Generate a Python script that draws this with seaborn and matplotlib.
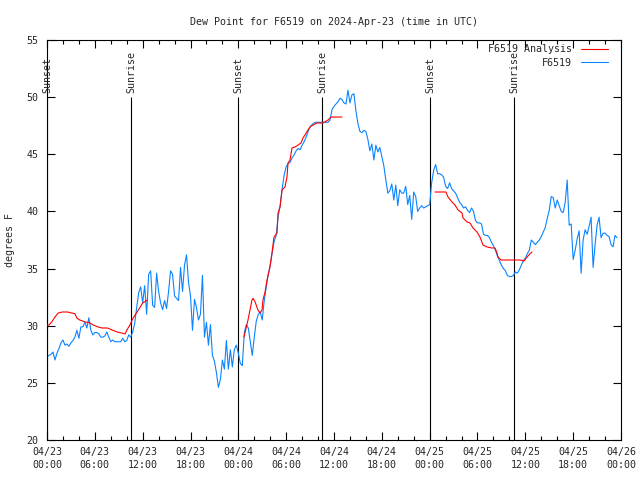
import numpy as np
import pandas as pd
import matplotlib
matplotlib.use("Agg")
import matplotlib.pyplot as plt
from matplotlib.lines import Line2D
import seaborn as sns

# ---------------------- DATA ----------------------
# hours since 2024-04-23 00:00 UTC
x_ticks = list(range(0, 73, 6))
x_tick_labels = ["04/23\n00:00", "04/23\n06:00", "04/23\n12:00", "04/23\n18:00",
                 "04/24\n00:00", "04/24\n06:00", "04/24\n12:00", "04/24\n18:00",
                 "04/25\n00:00", "04/25\n06:00", "04/25\n12:00", "04/25\n18:00",
                 "04/26\n00:00"]
y_ticks = [20, 25, 30, 35, 40, 45, 50, 55]

sun_names = ["Sunset", "Sunrise", "Sunset", "Sunrise", "Sunset", "Sunrise"]
sun_hours = [0.05, 10.54, 23.96, 34.5, 48.04, 58.58]

# F6519 observations, one every 15 minutes from 04/23 00:00
obs_step_h = 0.25
obs_dew = [
    27.3, 27.4, 27.5, 27.7, 27.0, 27.6, 28.0, 28.5, 28.75, 28.3, 28.4, 28.2,
    28.5, 28.7, 29.0, 29.6, 28.9, 29.9, 29.9, 30.3, 29.8, 30.7, 29.6, 29.2,
    29.4, 29.4, 29.3, 29.0, 29.0, 29.1, 29.45, 29.0, 28.6, 28.75, 28.6, 28.6,
    28.6, 28.6, 28.9, 28.6, 28.7, 29.2, 29.0, 29.45, 30.2, 31.6, 32.9, 33.4,
    32.0, 33.5, 31.0, 34.5, 34.8, 31.8, 31.6, 34.6, 33.0, 32.0, 31.4, 32.2,
    31.5, 33.0, 34.8, 34.5, 32.6, 32.4, 32.2, 35.1, 33.0, 35.3, 36.2, 33.8,
    32.6, 29.6, 32.3, 31.6, 30.5, 31.0, 34.4, 29.0, 30.3, 28.3, 30.1, 27.4,
    26.9, 25.9, 24.6, 25.3, 27.0, 26.2, 28.7, 26.2, 27.9, 26.4, 27.9, 28.3,
    27.6, 26.7, 26.5, 29.4, 30.1, 29.8, 28.6, 27.4, 29.0, 30.4, 31.0, 31.2,
    30.5, 32.2, 33.4, 34.5, 35.3, 36.4, 37.4, 37.9, 39.6, 40.5, 42.0, 43.2,
    43.9, 44.2, 44.3, 44.7, 44.95, 45.3, 45.5, 45.4, 45.8, 46.1, 46.5, 47.0,
    47.4, 47.6, 47.75, 47.8, 47.8, 47.8, 47.8, 47.8, 47.8, 47.8, 48.0, 48.9,
    49.2, 49.4, 49.6, 49.9, 49.8, 49.5, 49.4, 50.6, 49.5, 50.2, 50.3, 48.8,
    47.7, 47.0, 46.9, 47.1, 47.0, 46.3, 45.3, 45.9, 44.5, 45.8, 45.2, 45.6,
    44.8, 44.0, 42.75, 41.6, 41.8, 42.4, 41.0, 42.3, 40.5, 41.9, 41.6, 41.6,
    42.2, 40.6, 41.4, 39.3, 41.7, 41.3, 40.0, 40.3, 40.5, 40.3, 40.4, 40.5,
    40.6, 42.5, 43.6, 44.1, 43.3, 43.3, 43.2, 43.0, 42.2, 42.0, 42.5, 42.0,
    41.8, 41.6, 41.2, 40.8, 40.6, 40.3, 40.4, 40.1, 39.9, 40.3, 40.0, 39.2,
    39.0, 39.0, 38.9, 38.0, 37.9, 37.9, 37.7, 37.3, 37.0, 36.6, 36.1, 35.7,
    35.3, 35.0, 34.8, 34.4, 34.3, 34.3, 34.4, 34.7, 34.6, 34.9, 35.3, 35.7,
    35.9, 36.3, 36.6, 37.5, 37.3, 37.1, 37.3, 37.5, 37.8, 38.2, 38.6, 39.4,
    40.1, 41.3, 41.2, 40.3, 41.0, 40.5, 40.0, 39.9, 40.8, 42.75, 38.8, 38.9,
    35.8, 36.6, 37.6, 38.3, 34.6, 37.5, 38.4, 38.0, 38.7, 39.5, 35.1, 37.1,
    38.8, 39.5, 37.7, 38.1, 38.1, 37.9, 37.8, 37.1, 36.9, 37.9, 37.7,
]

# F6519 Analysis, three separate pieces
ana1_hours = [0.0, 0.25, 0.6, 1.0, 1.4, 1.9, 2.6, 3.1, 3.5, 3.75, 4.1, 4.8, 5.4,
              5.8, 6.4, 6.9, 7.6, 8.15, 8.8, 9.4, 9.8, 10.0, 10.4, 10.8, 11.3,
              11.7, 12.0, 12.6]
ana1_dew = [30.06, 30.06, 30.33, 30.76, 31.11, 31.2, 31.2, 31.11, 31.05, 30.67,
            30.5, 30.33, 30.24, 30.06, 29.89, 29.8, 29.8, 29.63, 29.45, 29.36,
            29.28, 29.6, 30.06, 30.67, 31.2, 31.64, 31.99, 32.25]

ana2_hours = [24.71, 25.21, 25.46, 25.71, 25.84, 26.09, 26.47, 26.72, 26.97,
              27.09, 27.35, 27.6, 27.97, 28.22, 28.47, 28.85, 28.98, 29.23,
              29.48, 29.85, 30.1, 30.23, 30.48, 30.73, 31.11, 31.49, 31.86,
              32.11, 32.36, 32.74, 32.99, 33.37, 33.87, 34.62, 35.25, 35.62, 37.0]
ana2_dew = [29.0, 30.5, 31.37, 32.25, 32.4, 32.1, 31.37, 31.11, 31.37, 32.25,
            32.95, 34.0, 35.14, 36.36, 37.76, 38.1, 39.86, 40.39, 41.88, 42.14,
            43.0, 44.24, 44.5, 45.55, 45.64, 45.81, 45.99, 46.43, 46.69, 47.13,
            47.39, 47.56, 47.74, 47.74, 48.0, 48.26, 48.26]

ana3_hours = [48.67, 50.05, 50.3, 50.8, 51.18, 51.56, 52.06, 52.18, 52.68, 53.06,
              53.44, 53.94, 54.31, 54.69, 55.19, 55.82, 56.2, 56.45, 56.57,
              56.95, 59.33, 59.83, 60.21, 60.59, 60.84]
ana3_dew = [41.7, 41.7, 41.26, 40.83, 40.56, 40.13, 39.86, 39.43, 39.08, 38.99,
            38.55, 38.2, 37.76, 37.06, 36.89, 36.8, 36.8, 36.36, 36.01, 35.75,
            35.75, 35.66, 36.0, 36.3, 36.45]

# ---------------------- PLOT ----------------------
obs = pd.DataFrame({"hour": np.arange(len(obs_dew)) * obs_step_h, "dew": obs_dew})
ana = pd.concat([
    pd.DataFrame({"hour": ana1_hours, "dew": ana1_dew, "seg": 1}),
    pd.DataFrame({"hour": ana2_hours, "dew": ana2_dew, "seg": 2}),
    pd.DataFrame({"hour": ana3_hours, "dew": ana3_dew, "seg": 3}),
])

sns.set_theme(style="ticks")
plt.rcParams["font.family"] = ["DejaVu Sans Mono"]
fs = 7.2
lw = 0.8
red = "#ff0000"
blue = "#0a84ff"

fig = plt.figure(figsize=(6.4, 4.8), dpi=100)
ax = fig.add_axes([47 / 640, 40 / 480, 574 / 640, 400 / 480])

sns.lineplot(data=ana, x="hour", y="dew", units="seg", estimator=None,
             color=red, lw=lw, ax=ax, legend=False, zorder=3)
sns.lineplot(data=obs, x="hour", y="dew", color=blue, lw=lw, ax=ax,
             legend=False, zorder=2)

ax.vlines(sun_hours, 20, 50, color="black", lw=lw, zorder=1)
for name, h in zip(sun_names, sun_hours):
    ax.text(h, 50.4, name, rotation=90, ha="center", va="bottom",
            fontsize=fs, clip_on=False)

ax.set_xlim(0, 72)
ax.set_ylim(20, 55)
ax.set_xticks(x_ticks)
ax.set_xticklabels(x_tick_labels, fontsize=fs, linespacing=1.35)
ax.set_xticks(range(0, 73, 2), minor=True)
ax.set_yticks(y_ticks)
ax.set_yticklabels([str(v) for v in y_ticks], fontsize=fs)
ax.tick_params(which="major", direction="in", top=True, right=True,
               length=6, width=0.8, color="black", pad=5)
ax.tick_params(which="minor", direction="in", top=True, right=False,
               left=False, length=3, width=0.8, color="black")
ax.tick_params(axis="y", pad=6)
for s in ax.spines.values():
    s.set_color("black")
    s.set_linewidth(0.8)

ax.set_xlabel("")
ax.set_ylabel("degrees F", fontsize=fs)
ax.yaxis.set_label_coords(-0.056, 0.5)
ax.set_title("Dew Point for F6519 on 2024-Apr-23 (time in UTC)",
             fontsize=fs, pad=11)

handles = [Line2D([], [], color=red, lw=lw), Line2D([], [], color=blue, lw=lw)]
ax.legend(handles, ["F6519 Analysis", "F6519"], loc="upper right",
          bbox_to_anchor=(0.9826, 0.997), frameon=False, markerfirst=False,
          fontsize=fs, handlelength=2.7, handletextpad=0.9,
          labelspacing=0.35, borderpad=0.3, borderaxespad=0)

fig.savefig("out.png", dpi=100)
